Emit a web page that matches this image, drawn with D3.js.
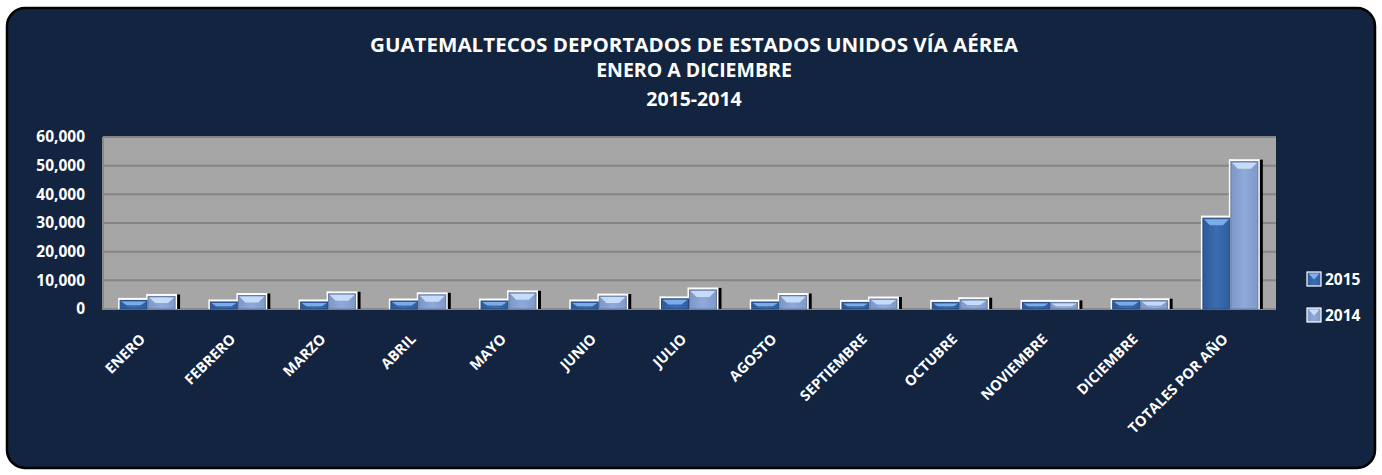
<!DOCTYPE html>
<html><head><meta charset="utf-8">
<script src="https://cdn.jsdelivr.net/npm/d3@7"></script>
<style>
html,body{margin:0;padding:0;background:#fff;}
svg{display:block;font-family:"Open Sans",sans-serif;}
</style></head>
<body><svg id="c" width="1382" height="475"></svg>
<script>
const titleLines = ["GUATEMALTECOS DEPORTADOS DE ESTADOS UNIDOS VÍA AÉREA","ENERO A DICIEMBRE","2015-2014"];
const categories = ["ENERO","FEBRERO","MARZO","ABRIL","MAYO","JUNIO","JULIO","AGOSTO","SEPTIEMBRE","OCTUBRE","NOVIEMBRE","DICIEMBRE","TOTALES POR AÑO"];
const seriesNames = ["2015","2014"];
const values2015 = [3000,2450,2450,2780,2780,2450,3550,2450,2300,2300,2300,2900,31700];
const values2014 = [4380,4700,5300,4950,5650,4500,6650,4700,3480,3250,2300,2900,51400];
const yTicks = [0,10000,20000,30000,40000,50000,60000];

const svg = d3.select("#c");
const m = {left:103, right:1276, top:137, bottom:309};

svg.append("rect").attr("x",7).attr("y",8).attr("width",1368).attr("height",460)
  .attr("rx",18).attr("ry",18).attr("fill","#12243f").attr("stroke","#000").attr("stroke-width",2.5);

svg.append("g").selectAll("text").data(titleLines).join("text")
  .attr("x",694).attr("y",(d,i)=>[52,77,106][i])
  .attr("text-anchor","middle").attr("fill","#fff").attr("font-weight","bold")
  .attr("font-size",19.5).attr("textLength",(d,i)=>i===0?648:null)
  .attr("lengthAdjust","spacingAndGlyphs").text(d=>d);

const x = d3.scaleBand().domain(categories).range([m.left,m.right]).paddingInner(0.38).paddingOuter(0.19);
const xs = d3.scaleBand().domain(seriesNames).range([0,x.bandwidth()]);
const y = d3.scaleLinear().domain([0,60000]).range([m.bottom,m.top]);

svg.append("rect").attr("x",m.left).attr("y",m.top).attr("width",m.right-m.left).attr("height",m.bottom-m.top)
  .attr("fill","#a6a6a6");
svg.append("g").selectAll("line").data(yTicks.filter(d=>d>0)).join("line")
  .attr("x1",m.left).attr("x2",m.right).attr("y1",d=>y(d)).attr("y2",d=>y(d))
  .attr("stroke","#858585").attr("stroke-width",2);
svg.append("path").attr("d",`M${m.left},${m.top}V${m.bottom}H${m.right}`).attr("fill","none")
  .attr("stroke","#8a8a8a").attr("stroke-width",2);

const yAxis = d3.axisLeft(y).tickValues(yTicks).tickFormat(d3.format(",")).tickSize(0).tickPadding(18);
const ya = svg.append("g").attr("transform",`translate(${m.left},0)`).call(yAxis);
ya.select(".domain").remove();
ya.selectAll("text").attr("fill","#fff").attr("font-size",15.5).attr("font-weight","bold").attr("font-family","Open Sans");

const xAxis = d3.axisBottom(x).tickSize(0).tickPadding(0);
const xa = svg.append("g").attr("transform",`translate(0,${m.bottom})`).call(xAxis);
xa.select(".domain").remove();
xa.selectAll("text").attr("fill","#fff").attr("font-size",14.5).attr("font-weight","bold").attr("font-family","Open Sans")
  .attr("text-anchor","end").attr("dy",0)
  .attr("transform","translate(-2,31) rotate(-45)");

const defs = svg.append("defs");
function grad(id, stops){
  const g = defs.append("linearGradient").attr("id",id).attr("x1",0).attr("x2",1).attr("y1",0).attr("y2",0);
  stops.forEach(s=>g.append("stop").attr("offset",s[0]).attr("stop-color",s[1]));
}
grad("g15",[[0,"#2c5a9a"],[0.5,"#3b6db2"],[1,"#2f5e9f"]]);
grad("g14",[[0,"#7d97c6"],[0.5,"#8eaadb"],[1,"#7f99c8"]]);
const style = {
  "2015":{fill:"url(#g15)", top:"#7fb0ea", edge:"#244a80"},
  "2014":{fill:"url(#g14)", top:"#c9defa", edge:"#66799f"}
};

const rows = categories.map((c,i)=>({cat:c, vals:[{s:"2015",v:values2015[i]},{s:"2014",v:values2014[i]}]}));
const groups = svg.append("g").selectAll("g").data(rows).join("g")
  .attr("transform",d=>`translate(${x(d.cat)},0)`);

groups.selectAll("rect.sh").data(d=>d.vals).join("rect").attr("class","sh")
  .attr("x",d=>xs(d.s)+3).attr("y",d=>y(d.v)-2).attr("width",xs.bandwidth()+1)
  .attr("height",d=>y(0)-y(d.v)+2).attr("fill","#000");
groups.selectAll("rect.fr").data(d=>d.vals).join("rect").attr("class","fr")
  .attr("x",d=>xs(d.s)-2).attr("y",d=>y(d.v)-2.5).attr("width",xs.bandwidth()+3)
  .attr("height",d=>y(0)-y(d.v)+2.5).attr("fill","#fff");
const bars = groups.selectAll("g.bar").data(d=>d.vals).join("g").attr("class","bar");
bars.append("rect")
  .attr("x",d=>xs(d.s)).attr("y",d=>y(d.v)).attr("width",xs.bandwidth()-1)
  .attr("height",d=>y(0)-y(d.v)).attr("fill",d=>style[d.s].fill)
  .attr("stroke",d=>style[d.s].edge).attr("stroke-width",1);
bars.append("path")
  .attr("d",d=>{
    const x0 = xs(d.s)+1, x1 = xs(d.s)+xs.bandwidth()-2, t = y(d.v)+1;
    const h = Math.min(6, (y(0)-y(d.v))*0.45);
    const inset = Math.min(6, h*1.2+1);
    return `M${x0},${t}H${x1}L${x1-inset},${t+h}H${x0+inset}Z`;
  })
  .attr("fill",d=>style[d.s].top).attr("opacity",0.95);

const lg = svg.append("g").selectAll("g").data(seriesNames).join("g")
  .attr("transform",(d,i)=>`translate(1307,${272+i*36})`);
lg.append("rect").attr("x",0).attr("y",0).attr("width",14).attr("height",14)
  .attr("fill",d=>style[d].fill).attr("stroke","#fff").attr("stroke-width",1.2);
lg.append("path").attr("d","M1.5,1.5H12.5L7,7.5Z").attr("fill",d=>style[d].top);
lg.append("text").attr("x",18).attr("y",13).attr("fill","#fff").attr("font-weight","bold")
  .attr("font-size",15.5).text(d=>d);
</script>
</body></html>
